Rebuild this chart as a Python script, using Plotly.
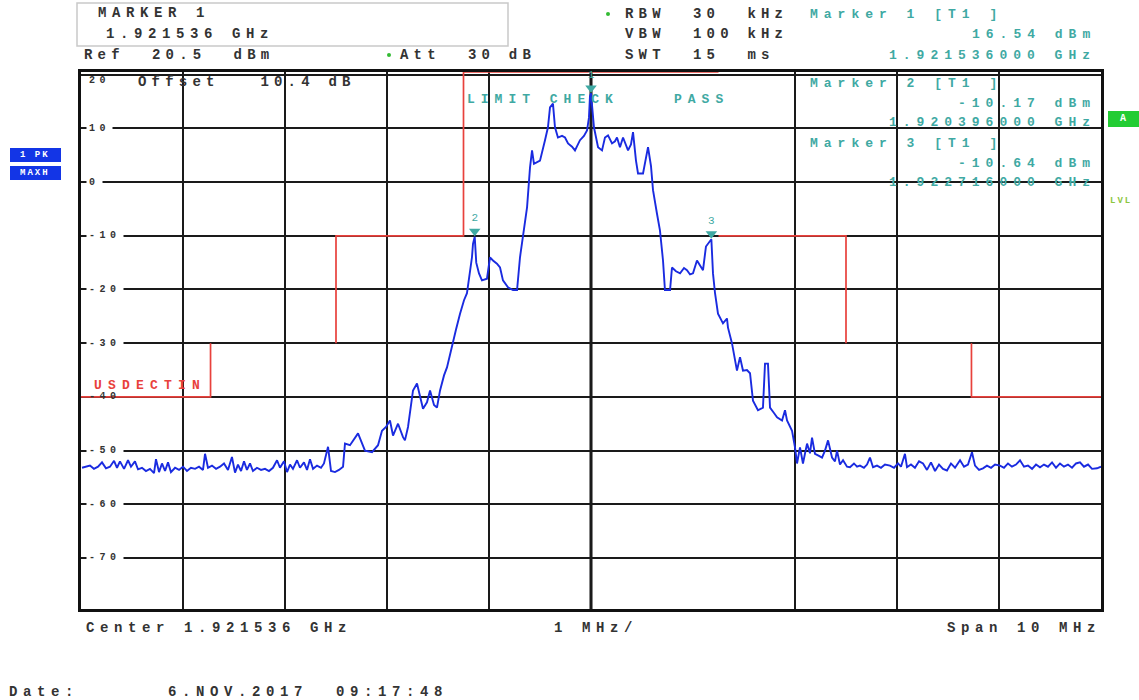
import plotly.graph_objects as go

# ---------------- data ----------------
CENTER_GHZ = 1.921536
SPAN_MHZ = 10.0
REF_LEVEL_DBM = 20.5
RANGE_DB = 100.0

# trace 1 (PK, MAXH): frequency offset from centre (MHz) and level (dBm)
trace_offset_mhz = [
    -4.990, -4.951, -4.912, -4.873, -4.833, -4.794, -4.755, -4.716, -4.676, -4.647,
    -4.618, -4.578, -4.539, -4.510, -4.471, -4.441, -4.402, -4.363, -4.324, -4.284,
    -4.265, -4.235, -4.206, -4.176, -4.147, -4.118, -4.078, -4.039, -4.000, -3.961,
    -3.922, -3.882, -3.843, -3.804, -3.784, -3.755, -3.716, -3.676, -3.637, -3.598,
    -3.559, -3.520, -3.490, -3.461, -3.431, -3.402, -3.373, -3.343, -3.314, -3.275,
    -3.235, -3.196, -3.157, -3.118, -3.078, -3.049, -3.010, -2.980, -2.951, -2.922,
    -2.882, -2.853, -2.814, -2.784, -2.755, -2.725, -2.686, -2.647, -2.618, -2.578,
    -2.549, -2.510, -2.471, -2.431, -2.412, -2.363, -2.284, -2.216, -2.147, -2.088,
    -2.049, -2.010, -1.971, -1.941, -1.892, -1.843, -1.824, -1.794, -1.765, -1.745,
    -1.706, -1.676, -1.647, -1.608, -1.578, -1.539, -1.510, -1.480, -1.441, -1.412,
    -1.382, -1.353, -1.324, -1.284, -1.245, -1.216, -1.186, -1.167, -1.157, -1.140,
    -1.125, -1.098, -1.069, -1.020, -0.990, -0.961, -0.922, -0.892, -0.863, -0.814,
    -0.765, -0.725, -0.696, -0.667, -0.627, -0.598, -0.578, -0.559, -0.500, -0.451,
    -0.422, -0.402, -0.373, -0.353, -0.324, -0.284, -0.255, -0.225, -0.186, -0.157,
    -0.108, -0.069, -0.039, -0.020, -0.010, 0.000, 0.010, 0.029, 0.069, 0.108,
    0.137, 0.167, 0.206, 0.235, 0.255, 0.284, 0.314, 0.343, 0.363, 0.392,
    0.412, 0.441, 0.461, 0.510, 0.539, 0.559, 0.588, 0.608, 0.647, 0.676,
    0.706, 0.725, 0.775, 0.794, 0.833, 0.873, 0.912, 0.941, 0.971, 1.000,
    1.039, 1.069, 1.098, 1.127, 1.180, 1.196, 1.216, 1.245, 1.294, 1.333,
    1.343, 1.382, 1.412, 1.431, 1.461, 1.490, 1.529, 1.559, 1.588, 1.637,
    1.686, 1.706, 1.735, 1.755, 1.794, 1.824, 1.873, 1.902, 1.922, 1.971,
    2.000, 2.020, 2.049, 2.078, 2.118, 2.147, 2.167, 2.196, 2.235, 2.265,
    2.294, 2.324, 2.363, 2.392, 2.412, 2.441, 2.471, 2.510, 2.539, 2.578,
    2.608, 2.637, 2.676, 2.706, 2.735, 2.765, 2.804, 2.843, 2.882, 2.931,
    2.971, 3.010, 3.039, 3.078, 3.098, 3.137, 3.176, 3.216, 3.255, 3.294,
    3.333, 3.373, 3.412, 3.451, 3.490, 3.529, 3.569, 3.618, 3.657, 3.696,
    3.735, 3.765, 3.804, 3.843, 3.882, 3.922, 3.961, 4.010, 4.049, 4.088,
    4.127, 4.167, 4.206, 4.245, 4.284, 4.324, 4.363, 4.402, 4.441, 4.480,
    4.520, 4.559, 4.598, 4.637, 4.676, 4.716, 4.755, 4.794, 4.833, 4.873,
    4.912, 4.961, 5.000,
]
trace_level_dbm = [
    -53.2, -53.0, -52.8, -53.4, -53.0, -52.2, -53.3, -53.0, -51.9, -53.2,
    -52.0, -53.4, -51.8, -53.0, -52.0, -53.5, -53.2, -53.8, -53.4, -54.2,
    -51.6, -54.0, -52.4, -53.8, -52.2, -54.0, -53.2, -53.6, -53.0, -53.8,
    -53.2, -53.4, -53.0, -53.6, -50.6, -53.2, -52.8, -53.4, -53.0, -52.4,
    -53.6, -51.2, -54.1, -52.6, -53.8, -52.0, -53.6, -52.4, -53.8, -53.2,
    -53.6, -53.4, -53.8, -53.2, -51.8, -53.2, -52.0, -54.0, -52.6, -53.4,
    -51.8, -53.2, -52.2, -53.6, -51.6, -53.4, -52.8, -53.2, -52.4, -49.3,
    -53.8, -54.0, -53.6, -53.0, -48.7, -49.0, -46.8, -50.0, -50.3, -49.0,
    -46.3, -45.6, -44.4, -47.2, -45.0, -47.5, -48.1, -45.6, -42.0, -38.8,
    -37.5, -40.0, -42.2, -41.0, -38.8, -41.5, -42.0, -38.8, -36.0, -34.5,
    -32.0, -29.5, -27.5, -24.5, -22.0, -20.7, -17.0, -14.0, -11.5, -10.17,
    -15.0, -17.0, -18.3, -18.0, -14.0, -14.6, -15.2, -15.9, -18.3, -19.6,
    -20.1, -20.1, -14.0, -10.3, -4.7, 2.7, 5.9, 3.4, 4.0, 7.8,
    10.2, 13.9, 14.6, 10.2, 8.3, 8.6, 8.3, 7.2, 6.6, 5.9,
    7.8, 8.6, 9.6, 12.0, 16.0, 16.54, 14.0, 10.2, 6.5, 5.9,
    8.3, 8.7, 7.2, 7.6, 8.3, 6.5, 8.3, 7.0, 5.9, 7.0,
    9.3, 4.0, 1.6, 1.6, 4.5, 6.5, 3.0, -1.5, -5.9, -9.0,
    -14.6, -20.1, -20.1, -15.9, -16.6, -17.0, -16.0, -16.4, -17.2, -17.0,
    -14.6, -15.5, -16.4, -12.0, -10.64, -17.0, -20.7, -24.5, -26.3, -25.4,
    -27.1, -30.0, -33.2, -35.1, -32.6, -35.1, -35.0, -35.6, -40.7, -42.5,
    -42.0, -33.8, -33.8, -42.0, -43.0, -43.8, -44.4, -42.5, -44.4, -46.3,
    -49.4, -52.4, -49.4, -52.4, -48.7, -50.5, -47.6, -50.6, -51.0, -51.3,
    -50.0, -48.1, -51.3, -52.0, -50.0, -52.6, -51.8, -53.0, -53.1, -52.4,
    -53.0, -52.8, -53.2, -52.6, -51.3, -53.1, -52.8, -53.2, -52.6, -52.8,
    -53.2, -52.4, -53.0, -50.6, -53.1, -52.6, -53.2, -52.0, -52.4, -53.6,
    -52.2, -53.8, -52.6, -53.4, -53.7, -52.4, -53.2, -51.8, -53.0, -52.6,
    -50.3, -52.8, -53.6, -53.3, -52.8, -53.2, -52.6, -52.8, -53.2, -52.4,
    -53.0, -52.6, -51.8, -53.0, -52.8, -53.4, -52.6, -53.1, -52.6, -53.0,
    -52.2, -53.2, -52.4, -53.0, -52.6, -53.2, -52.4, -52.2, -53.0, -52.6,
    -53.4, -53.3, -53.0,
]

# spectrum-emission limit line (USDECTIN); None = gap in the drawn line
limit_offset_mhz = [-5.0, -3.73, -3.73, None, -2.5, -2.5, -1.25, -1.25, 1.25, None,
                    1.25, 2.5, 2.5, None, 3.73, 3.73, 5.0]
limit_level_dbm = [-40, -40, -30, None, -30, -10, -10, 20.5, 20.5, None,
                   -10, -10, -30, None, -30, -40, -40]

marker_labels = ["1", "2", "3"]
marker_freq_ghz = [1.921536, 1.920396, 1.922716]
marker_level_dbm = [16.54, -10.17, -10.64]

y_tick_values = [20, 10, 0, -10, -20, -30, -40, -50, -60, -70]
y_tick_labels = ["20", "10", "0", "-10", "-20", "-30", "-40", "-50", "-60", "-70"]
x_grid_offsets_mhz = [-4, -3, -2, -1, 0, 2, 3, 4]   # the +1 MHz line is absent in the picture

# ---------------- styling ----------------
BLUE = "#1a2be0"
RED = "#e8413c"
TEAL = "#3fa9a3"
DARK = "#333333"
FONT = "Liberation Mono"

W, H = 1139, 700
PL, PR, PT, PB = 81, 1101, 72, 609


def px(x):
    return (x - PL) / (PR - PL)


def py(y):
    return (PB - y) / (PB - PT)


def spaced(s, ls):
    return '<span style="letter-spacing:%spx">%s</span>' % (ls, s.replace(" ", "\u00a0"))


def to_ghz(offs):
    return [None if o is None else CENTER_GHZ + o / 1000.0 for o in offs]


annotations = []


def label(text, x, y, color=DARK, size=14, ls=5.2, anchor="left", **kw):
    annotations.append(dict(
        text=spaced(text, ls), x=px(x), y=py(y), xref="paper", yref="paper",
        xanchor=anchor, yanchor="middle", showarrow=False,
        font=dict(family=FONT, size=size, color=color, weight="bold"), **kw))


# header
label("MARKER 1", 96, 13, size=14, ls=5.6)
label("1.921536 GHz", 104, 34, size=14, ls=5.6)
label("Ref  20.5  dBm", 82, 55)
label("Att  30 dB", 398, 55)
label("RBW  30  kHz", 623, 14)
label("VBW  100 kHz", 623, 34)
label("SWT  15  ms", 623, 55)
label("Marker 1 [T1 ]", 808, 14, color=TEAL, size=13, ls=6.0)
label("16.54 dBm", 1098, 35, color=TEAL, size=13, ls=6.0, anchor="right")
label("1.921536000 GHz", 1098, 55, color=TEAL, size=13, ls=6.0, anchor="right")
# inside the diagram
label("Marker 2 [T1 ]", 808, 83, color=TEAL, size=13, ls=6.0)
label("-10.17 dBm", 1098, 103, color=TEAL, size=13, ls=6.0, anchor="right")
label("1.920396000 GHz", 1098, 123, color=TEAL, size=13, ls=6.0, anchor="right")
label("Marker 3 [T1 ]", 808, 143, color=TEAL, size=13, ls=6.0)
label("-10.64 dBm", 1098, 163, color=TEAL, size=13, ls=6.0, anchor="right")
label("1.922716000 GHz", 1098, 183, color=TEAL, size=13, ls=6.0, anchor="right")
label("Offset   10.4 dB", 136, 82)
label("LIMIT CHECK    PASS", 465, 100, color=TEAL, size=13, ls=6.0)
label("USDECTIN", 92, 385, color=RED, size=13, ls=6.2)
# footer
label("Center 1.921536 GHz", 84, 628, ls=5.6)
label("1 MHz/", 552, 628, ls=5.6)
label("Span 10 MHz", 1103, 628, ls=5.6, anchor="right")
label("Date:", 7, 692, ls=5.6)
label("6.NOV.2017  09:17:48", 166, 692, ls=5.6)
# side soft-key labels
label("1 PK", 35, 155, color="white", size=9, ls=2, anchor="center")
label("MAXH", 35, 173, color="white", size=9, ls=2, anchor="center")
label("A", 1123, 119, color="white", size=10, ls=0, anchor="center")
label("LVL", 1108, 201, color="#8cc63f", size=9, ls=2)

# level labels sitting on the grid lines
for v, t in zip(y_tick_values, y_tick_labels):
    annotations.append(dict(
        text=spaced(t, 4.5), x=px(86), y=v, xref="paper", yref="y",
        xanchor="left", yanchor="middle", showarrow=False,
        yshift=-6 if v == 20 else 0,
        bgcolor=None if v in (20, -40) else "white", borderpad=2,
        font=dict(family=FONT, size=10, color=DARK, weight="bold")))

shapes = [
    # marker info box
    dict(type="rect", xref="paper", yref="paper", x0=px(77), x1=px(508), y0=py(3), y1=py(46),
         line=dict(color="#c9c9c9", width=1.5), fillcolor="rgba(0,0,0,0)", layer="above"),
    # thick centre line
    dict(type="line", xref="x", yref="paper", x0=CENTER_GHZ, x1=CENTER_GHZ, y0=0, y1=1,
         line=dict(color="#111111", width=3), layer="below"),
    # soft-key boxes
    dict(type="rect", xref="paper", yref="paper", x0=px(10), x1=px(61), y0=py(148), y1=py(162),
         line=dict(width=0), fillcolor="#1335e6", layer="below"),
    dict(type="rect", xref="paper", yref="paper", x0=px(10), x1=px(61), y0=py(166), y1=py(180),
         line=dict(width=0), fillcolor="#1335e6", layer="below"),
    dict(type="rect", xref="paper", yref="paper", x0=px(1108), x1=px(1139), y0=py(111), y1=py(127),
         line=dict(width=0), fillcolor="#22cc33", layer="below"),
    # green status dots
    dict(type="circle", xref="paper", yref="paper", x0=px(387), x1=px(391), y0=py(53), y1=py(57),
         line=dict(width=0), fillcolor="#33bb33"),
    dict(type="circle", xref="paper", yref="paper", x0=px(606), x1=px(610), y0=py(12), y1=py(16),
         line=dict(width=0), fillcolor="#33bb33"),
]

fig = go.Figure()
fig.add_trace(go.Scatter(
    x=to_ghz(limit_offset_mhz), y=limit_level_dbm, mode="lines",
    line=dict(color=RED, width=1.7), connectgaps=False, hoverinfo="skip"))
fig.add_trace(go.Scatter(
    x=to_ghz(trace_offset_mhz), y=trace_level_dbm, mode="lines",
    line=dict(color=BLUE, width=1.9)))
fig.add_trace(go.Scatter(
    x=marker_freq_ghz, y=[v + 1.0 for v in marker_level_dbm], mode="markers+text",
    marker=dict(symbol="triangle-down", size=10, color=TEAL),
    text=marker_labels, textposition="top center", cliponaxis=False,
    textfont=dict(family=FONT, size=11, color=TEAL)))

axis_common = dict(
    showticklabels=False, ticks="", showgrid=True, gridcolor="#1a1a1a", gridwidth=1.8,
    zeroline=False, showline=True, mirror=True, linecolor="#111111", linewidth=3,
    layer="below traces", fixedrange=True)

fig.update_layout(
    width=W, height=H, margin=dict(l=PL, r=W - PR, t=PT, b=H - PB, pad=0),
    paper_bgcolor="white", plot_bgcolor="white", showlegend=False,
    xaxis=dict(range=[CENTER_GHZ - SPAN_MHZ / 2000.0, CENTER_GHZ + SPAN_MHZ / 2000.0],
               tickvals=[CENTER_GHZ + o / 1000.0 for o in x_grid_offsets_mhz], **axis_common),
    yaxis=dict(range=[REF_LEVEL_DBM - RANGE_DB, REF_LEVEL_DBM], tickvals=y_tick_values,
               **axis_common),
    annotations=annotations, shapes=shapes,
)

fig.write_html("out.html", config={"displayModeBar": False},
               post_script="document.body.style.margin='0';document.body.style.overflow='hidden';")
